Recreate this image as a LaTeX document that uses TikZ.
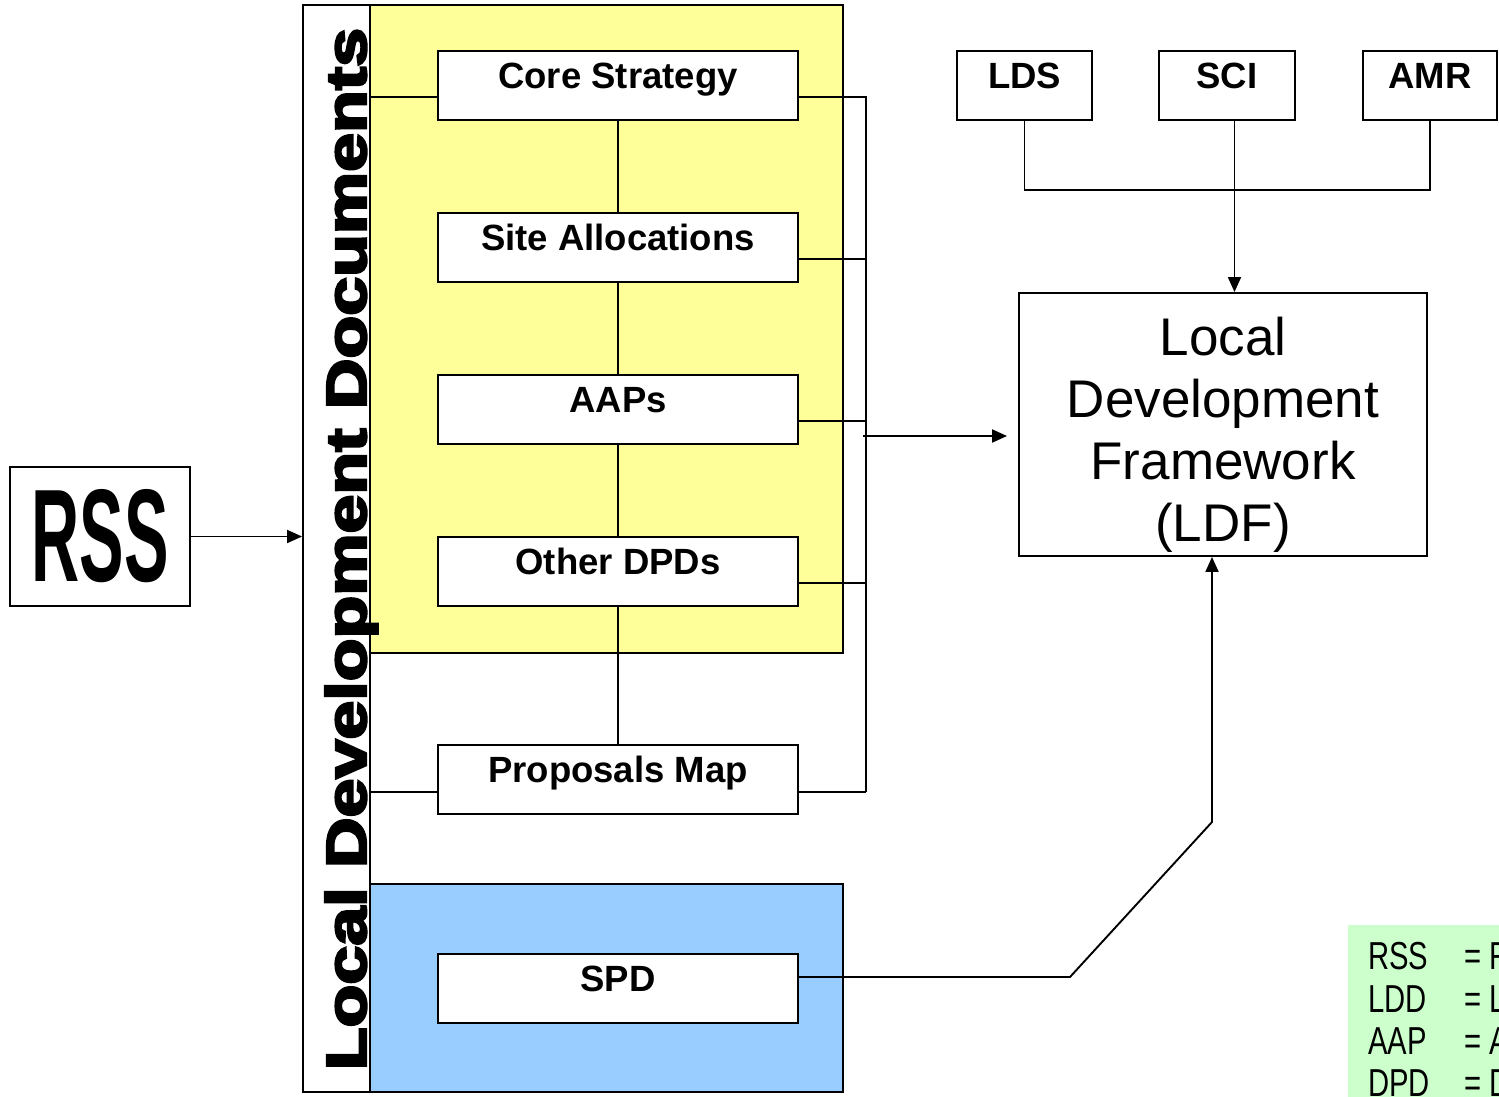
\documentclass[tikz,border=0pt]{standalone}
\usepackage{graphicx}
\usepackage{fontspec}
\setmainfont{Liberation Sans}
\newfontfamily\heavyfont{Liberation Sans}[BoldFeatures={FakeBold=4}]
\newfontfamily\narrowfont{Liberation Sans}[FakeStretch=0.75]
\usetikzlibrary{arrows.meta}
\definecolor{yelfill}{HTML}{FFFF99}
\definecolor{bluefill}{HTML}{99CCFF}
\definecolor{greenfill}{HTML}{CCFFCC}
\begin{document}
\begin{tikzpicture}[x=1pt,y=-1pt,
  ln/.style={line width=1.9pt},
  arr/.style={-{Triangle[length=15pt,width=13pt]}},
  region/.style={draw,line width=1.9pt,inner sep=0pt},
  inbox/.style={draw,line width=1.9pt,fill=white,inner sep=0pt,minimum width=360pt,
    text height=37pt,text depth=32pt,font=\fontsize{36.5}{40}\selectfont\bfseries},
  topbox/.style={inbox,minimum width=135pt},
  lgt/.style={inner sep=0pt,anchor=base west,font=\narrowfont\fontsize{39}{43}\selectfont}
]
\useasboundingbox (0,0) rectangle (1499,1096);

% regions
\node[region,fill=yelfill,minimum width=473pt,minimum height=648pt] (yel) at (606.5,329) {};
\node[region,fill=bluefill,minimum width=473pt,minimum height=208pt] (blu) at (606.5,988) {};
\node[region,fill=white,minimum width=67pt,minimum height=1087pt] (ldd) at (336.5,548.5) {};
\node[rotate=90,anchor=base,inner sep=0pt] (lddtext) at (366,549)
  {\resizebox{1042pt}{41pt}{\heavyfont\bfseries Local Development Documents}};

% inner boxes
\node[inbox] (cs) at (618,85.5) {Core Strategy};
\node[inbox] (sa) at (618,247.5) {Site Allocations};
\node[inbox] (aap) at (618,409.5) {AAPs};
\node[inbox] (odpd) at (618,571.5) {Other DPDs};
\node[inbox] (pm) at (618,779.5) {Proposals Map};
\node[inbox] (spd) at (618,988.5) {SPD};

% vertical chain
\draw[ln] (cs.south) -- (sa.north) (sa.south) -- (aap.north)
  (aap.south) -- (odpd.north) (odpd.south) -- (pm.north);

% left links to strip
\draw[ln] ([yshift=-11.5pt]cs.west) -- ([yshift=-11.5pt]cs.west -| ldd.east);
\draw[ln] ([yshift=-12.5pt]pm.west) -- ([yshift=-12.5pt]pm.west -| ldd.east);

% right bus
\coordinate (bb) at (866,792);
\draw[ln] ([yshift=-11.5pt]cs.east) -| (bb);
\draw[ln] ([yshift=-11.5pt]sa.east) -- ++(68,0);
\draw[ln] ([yshift=-11.5pt]aap.east) -- ++(68,0);
\draw[ln] ([yshift=-11.5pt]odpd.east) -- ++(68,0);
\draw[ln] ([yshift=-12.5pt]pm.east) -- (bb);

% LDF
\node[draw,line width=1.9pt,minimum width=408pt,minimum height=263pt,inner sep=0pt] (ldf) at (1223,424.5) {};
\node[align=center,inner sep=0pt,font=\fontsize{53}{62}\selectfont] (ldftext) at (1223,435)
  {Local\\Development\\Framework\\(LDF)};

\coordinate (ain) at (863,436);
\draw[ln,arr,shorten >=11pt] (ain) -- (ain -| ldf.west);

% RSS
\node[draw,line width=1.9pt,minimum width=180pt,minimum height=139pt,inner sep=0pt] (rss) at (100,536.5)
  {\resizebox{137pt}{92pt}{\bfseries RSS}};
\draw[ln,arr] (rss.east) -- (rss.east -| ldd.west);

% top boxes
\node[topbox] (lds) at (1024.5,85.5) {LDS};
\node[topbox,minimum width=136pt] (sci) at (1227,85.5) {SCI};
\node[topbox,minimum width=134pt] (amr) at (1430,85.5) {AMR};
\draw[ln] (lds.south) -- ++(0,69) -| (amr.south);
\draw[ln,arr] ([xshift=7.5pt]sci.south) -- ([xshift=7.5pt]sci.south |- ldf.north);

% SPD to LDF
\coordinate (k1) at (1070,977);
\coordinate (k2) at (1212,822);
\draw[ln,arr] ([yshift=11.5pt]spd.east) -- (k1) -- (k2) -- (k2 |- ldf.south);

% legend
\begin{scope}
\clip (0,0) rectangle (1499,1096);
\fill[greenfill] (1348,925) rectangle (1520,1120);
\node[lgt] (l1) at (1368,969) {RSS};
\node[lgt] (l1e) at (1464,969) {= R};
\node[lgt] (l2) at (1368,1012) {LDD};
\node[lgt] (l2e) at (1464,1012) {= L};
\node[lgt] (l3) at (1368,1054) {AAP};
\node[lgt] (l3e) at (1464,1054) {= A};
\node[lgt] (l4) at (1368,1096) {DPD};
\node[lgt] (l4e) at (1464,1096) {= D};
\end{scope}
\end{tikzpicture}
\end{document}
